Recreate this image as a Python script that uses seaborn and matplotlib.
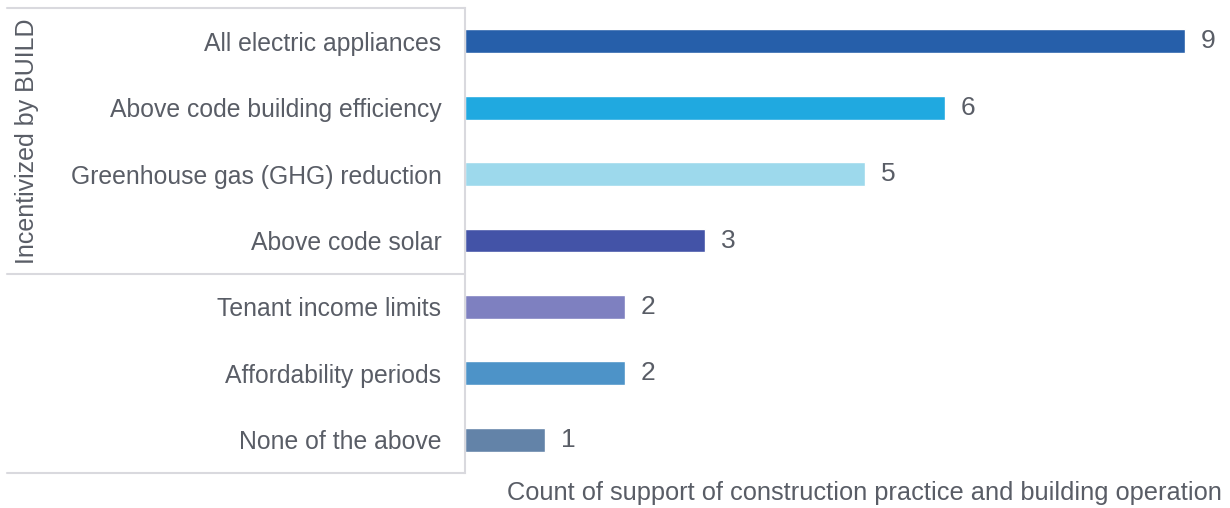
import matplotlib
matplotlib.use("Agg")
import matplotlib.pyplot as plt
from matplotlib.lines import Line2D
import seaborn as sns
import pandas as pd

categories = [
    "All electric appliances",
    "Above code building efficiency",
    "Greenhouse gas (GHG) reduction",
    "Above code solar",
    "Tenant income limits",
    "Affordability periods",
    "None of the above",
]
counts = [9, 6, 5, 3, 2, 2, 1]
colors = ["#265FAA", "#20A9E0", "#9DD9EC", "#4353A7", "#7E80C0", "#4D93C8", "#6383A8"]
group_label = "Incentivized by BUILD"
group_size = 4
x_label = "Count of support of construction practice and building operation"

sns.set_theme(style="white")
plt.rcParams["font.family"] = ["Liberation Sans", "DejaVu Sans"]
text_color = "#595D66"
line_color = "#D9D9DE"

W, H = 1230, 508
fig = plt.figure(figsize=(W / 100, H / 100), dpi=100)
ax_left, ax_right, ax_top, ax_bottom = 465, 1225, 8, 473
ax = fig.add_axes([ax_left / W, 1 - ax_bottom / H, (ax_right - ax_left) / W, (ax_bottom - ax_top) / H])

df = pd.DataFrame({"category": categories, "count": counts})
sns.barplot(data=df, x="count", y="category", hue="category", palette=colors,
            order=categories, hue_order=categories, orient="h", width=0.36,
            legend=False, ax=ax, saturation=1)

ax.set_xlim(0, 9.5)
ax.set_ylim(len(categories) - 0.5, -0.5)
for s in ["top", "right", "bottom"]:
    ax.spines[s].set_visible(False)
ax.spines["left"].set_color(line_color)
ax.spines["left"].set_linewidth(1.5)
ax.set_xticks([])
ax.set_ylabel("")
ax.set_xlabel("")
ax.tick_params(axis="y", length=0, pad=17, labelsize=17.8, labelcolor=text_color)

for i, v in enumerate(counts):
    ax.text(v + 0.2, i, f"{v}", va="center", ha="left", fontsize=19, color=text_color)

# grouping box to the left of the axis
def fig_hline(y, x0, x1):
    fig.add_artist(Line2D([x0 / W, x1 / W], [1 - y / H, 1 - y / H], color=line_color, lw=1.5))

row_h = (ax_bottom - ax_top) / len(categories)
split_y = ax_top + group_size * row_h
fig_hline(ax_top, 7, ax_left)
fig_hline(split_y, 7, ax_left)
fig_hline(ax_bottom, 7, ax_left)
fig.text(27 / W, 1 - ((ax_top + split_y) / 2) / H, group_label, rotation=90,
         ha="center", va="center", fontsize=18, color=text_color)

fig.text(1222 / W, 1 - 493 / H, x_label, ha="right", va="center", fontsize=18.3, color=text_color)

fig.savefig("out.png", dpi=100)
